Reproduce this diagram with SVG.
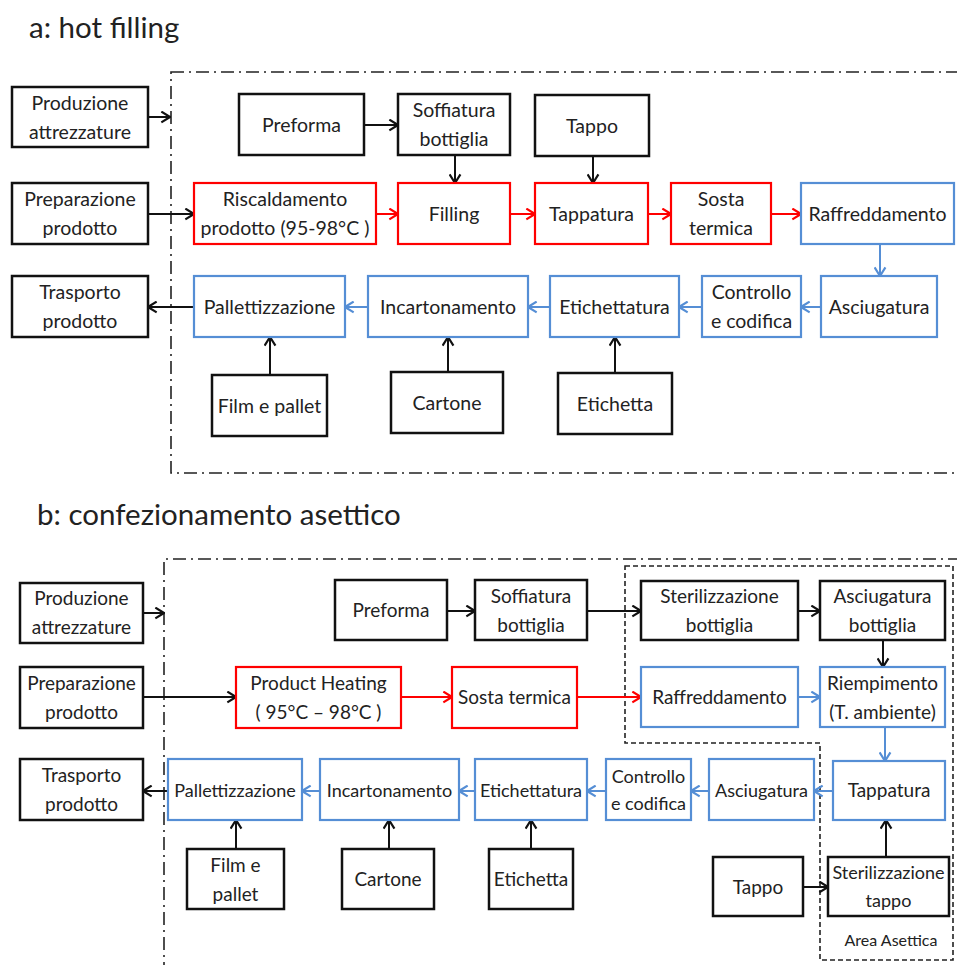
<svg xmlns="http://www.w3.org/2000/svg" width="957" height="965" viewBox="0 0 957 965">
  <defs>
    <style>
      text { font-family: Lato, "Liberation Sans", sans-serif; fill: #222222; text-anchor: middle; }
      .title { font-size: 29.5px; text-anchor: start; }
      .ta { font-size: 19.5px; }
      .tb { font-size: 19px; }
      .tc { font-size: 18px; }
      .small { font-size: 16px; }
      rect { fill: #ffffff; }
      .k { stroke: #111111; stroke-width: 2.5; }
      .r { stroke: #ff0000; stroke-width: 2.2; }
      .b { stroke: #558ed5; stroke-width: 2.2; }
      .ck { fill: none; stroke: #111111; stroke-width: 2; marker-end: url(#ak); }
      .cr { fill: none; stroke: #ff0000; stroke-width: 2; marker-end: url(#ar); }
      .cb { fill: none; stroke: #558ed5; stroke-width: 2; marker-end: url(#ab); }
      .frame { fill: none; stroke: #222222; stroke-width: 1.6; stroke-dasharray: 13 5 2 5; }
      .aseptic { fill: none; stroke: #222222; stroke-width: 1.6; stroke-dasharray: 5 3; }
    </style>
    <marker id="ak" viewBox="0 0 10 12" refX="9" refY="6" markerWidth="11" markerHeight="13" markerUnits="userSpaceOnUse" orient="auto">
      <path d="M1,1 L9,6 L1,11" fill="none" stroke="#111111" stroke-width="2"/>
    </marker>
    <marker id="ar" viewBox="0 0 10 12" refX="9" refY="6" markerWidth="11" markerHeight="13" markerUnits="userSpaceOnUse" orient="auto">
      <path d="M1,1 L9,6 L1,11" fill="none" stroke="#ff0000" stroke-width="2"/>
    </marker>
    <marker id="ab" viewBox="0 0 10 12" refX="9" refY="6" markerWidth="11" markerHeight="13" markerUnits="userSpaceOnUse" orient="auto">
      <path d="M1,1 L9,6 L1,11" fill="none" stroke="#558ed5" stroke-width="2"/>
    </marker>
  </defs>

  <rect x="0" y="0" width="957" height="965" fill="#ffffff"/>

  <!-- section titles -->
  <text class="title" x="29" y="38">a: hot filling</text>
  <text class="title" x="37" y="525">b: confezionamento asettico</text>

  <!-- boundaries -->
  <g id="boundaries">
    <rect class="frame" x="171" y="72" width="800" height="401"/>
    <path class="frame" d="M164,975 V559 H965"/>
    <path class="aseptic" d="M625,566 H953 V960 H820 V743 H625 Z"/>
    <text class="small" x="891" y="946">Area Asettica</text>
  </g>

  <!-- connectors -->
  <g id="connectors">
    <!-- a: hot filling -->
    <path class="ck" d="M148,117 H170"/>
    <path class="ck" d="M148,214 H194"/>
    <path class="ck" d="M364,125 H398"/>
    <path class="ck" d="M455,155 V183"/>
    <path class="ck" d="M593,157 V183"/>
    <path class="cr" d="M376,214 H398"/>
    <path class="cr" d="M510,214 H535"/>
    <path class="cr" d="M648,214 H671"/>
    <path class="cr" d="M771,214 H801"/>
    <path class="cb" d="M880,244 V276"/>
    <path class="cb" d="M821,307 H801"/>
    <path class="cb" d="M702,307 H679"/>
    <path class="cb" d="M550,307 H528"/>
    <path class="cb" d="M368,307 H345"/>
    <path class="ck" d="M194,307 H148"/>
    <path class="ck" d="M270,375 V337"/>
    <path class="ck" d="M448,372 V337"/>
    <path class="ck" d="M615,373 V337"/>
    <!-- b: confezionamento asettico -->
    <path class="ck" d="M143,613 H164"/>
    <path class="ck" d="M143,697 H236"/>
    <path class="ck" d="M447,611 H475"/>
    <path class="ck" d="M587,611 H641"/>
    <path class="ck" d="M798,611 H820"/>
    <path class="ck" d="M883,640 V667"/>
    <path class="cr" d="M401,697 H452"/>
    <path class="cr" d="M577,697 H641"/>
    <path class="cb" d="M798,697 H820"/>
    <path class="cb" d="M885,727 V761"/>
    <path class="cb" d="M833,791 H814"/>
    <path class="cb" d="M709,791 H691"/>
    <path class="cb" d="M606,791 H587"/>
    <path class="cb" d="M475,791 H459"/>
    <path class="cb" d="M320,791 H302"/>
    <path class="ck" d="M168,791 H143"/>
    <path class="ck" d="M236,849 V820"/>
    <path class="ck" d="M389,849 V820"/>
    <path class="ck" d="M531,849 V820"/>
    <path class="ck" d="M886,857 V820"/>
    <path class="ck" d="M803,887 H828"/>
  </g>

  <!-- a: hot filling nodes -->
  <g id="a-produzione-attrezzature"><rect class="k" x="12" y="87" width="136" height="60"/><text class="ta" x="80" y="110">Produzione</text><text class="ta" x="80" y="139">attrezzature</text></g>
  <g id="a-preforma"><rect class="k" x="239" y="94" width="125" height="61"/><text class="ta" x="301.5" y="132">Preforma</text></g>
  <g id="a-soffiatura"><rect class="k" x="398" y="94" width="112" height="61"/><text class="ta" x="454" y="117">Soffiatura</text><text class="ta" x="454" y="146">bottiglia</text></g>
  <g id="a-tappo"><rect class="k" x="535" y="95" width="114" height="61"/><text class="ta" x="592" y="133">Tappo</text></g>
  <g id="a-preparazione-prodotto"><rect class="k" x="12" y="183" width="136" height="61"/><text class="ta" x="80" y="206">Preparazione</text><text class="ta" x="80" y="235">prodotto</text></g>
  <g id="a-riscaldamento"><rect class="r" x="194" y="183" width="182" height="61"/><text class="ta" x="285" y="206">Riscaldamento</text><text class="ta" x="285" y="235">prodotto (95-98°C )</text></g>
  <g id="a-filling"><rect class="r" x="398" y="183" width="112" height="61"/><text class="ta" x="454" y="221">Filling</text></g>
  <g id="a-tappatura"><rect class="r" x="535" y="183" width="113" height="61"/><text class="ta" x="591.5" y="221">Tappatura</text></g>
  <g id="a-sosta-termica"><rect class="r" x="671" y="183" width="100" height="61"/><text class="ta" x="721" y="206">Sosta</text><text class="ta" x="721" y="235">termica</text></g>
  <g id="a-raffreddamento"><rect class="b" x="801" y="183" width="153" height="61"/><text class="ta" x="877.5" y="221">Raffreddamento</text></g>
  <g id="a-trasporto-prodotto"><rect class="k" x="12" y="276" width="136" height="61"/><text class="ta" x="80" y="299">Trasporto</text><text class="ta" x="80" y="328">prodotto</text></g>
  <g id="a-pallettizzazione"><rect class="b" x="194" y="276" width="151" height="61"/><text class="ta" x="269.5" y="314">Pallettizzazione</text></g>
  <g id="a-incartonamento"><rect class="b" x="368" y="276" width="160" height="61"/><text class="ta" x="448" y="314">Incartonamento</text></g>
  <g id="a-etichettatura"><rect class="b" x="550" y="276" width="129" height="61"/><text class="ta" x="614.5" y="314">Etichettatura</text></g>
  <g id="a-controllo-codifica"><rect class="b" x="702" y="276" width="99" height="61"/><text class="ta" x="751.5" y="299">Controllo</text><text class="ta" x="751.5" y="328">e codifica</text></g>
  <g id="a-asciugatura"><rect class="b" x="821" y="276" width="116" height="61"/><text class="ta" x="879" y="314">Asciugatura</text></g>
  <g id="a-film-pallet"><rect class="k" x="212" y="375" width="115" height="61"/><text class="ta" x="269.5" y="413">Film e pallet</text></g>
  <g id="a-cartone"><rect class="k" x="391" y="372" width="112" height="61"/><text class="ta" x="447" y="410">Cartone</text></g>
  <g id="a-etichetta"><rect class="k" x="558" y="373" width="114" height="61"/><text class="ta" x="615" y="411">Etichetta</text></g>

  <!-- b: confezionamento asettico nodes -->
  <g id="b-produzione-attrezzature"><rect class="k" x="20" y="583" width="123" height="60"/><text class="tb" x="81.5" y="605">Produzione</text><text class="tb" x="81.5" y="634">attrezzature</text></g>
  <g id="b-preparazione-prodotto"><rect class="k" x="20" y="667" width="123" height="61"/><text class="tb" x="81.5" y="690">Preparazione</text><text class="tb" x="81.5" y="719">prodotto</text></g>
  <g id="b-preforma"><rect class="k" x="335" y="580" width="112" height="60"/><text class="tb" x="391" y="617">Preforma</text></g>
  <g id="b-soffiatura"><rect class="k" x="475" y="580" width="112" height="60"/><text class="tb" x="531" y="603">Soffiatura</text><text class="tb" x="531" y="632">bottiglia</text></g>
  <g id="b-sterilizzazione-bottiglia"><rect class="k" x="641" y="581" width="157" height="59"/><text class="tb" x="719.5" y="603">Sterilizzazione</text><text class="tb" x="719.5" y="632">bottiglia</text></g>
  <g id="b-asciugatura-bottiglia"><rect class="k" x="820" y="581" width="125" height="59"/><text class="tb" x="882.5" y="603">Asciugatura</text><text class="tb" x="882.5" y="632">bottiglia</text></g>
  <g id="b-product-heating"><rect class="r" x="236" y="667" width="165" height="61"/><text class="tb" x="318.5" y="690">Product Heating</text><text class="tb" x="318.5" y="719">( 95°C – 98°C )</text></g>
  <g id="b-sosta-termica"><rect class="r" x="452" y="667" width="125" height="61"/><text class="tb" x="514.5" y="704">Sosta termica</text></g>
  <g id="b-raffreddamento"><rect class="b" x="641" y="667" width="157" height="60"/><text class="tb" x="719.5" y="704">Raffreddamento</text></g>
  <g id="b-riempimento"><rect class="b" x="820" y="667" width="125" height="60"/><text class="tb" x="882.5" y="690">Riempimento</text><text class="tb" x="882.5" y="719">(T. ambiente)</text></g>
  <g id="b-trasporto-prodotto"><rect class="k" x="20" y="759" width="123" height="61"/><text class="tb" x="81.5" y="782">Trasporto</text><text class="tb" x="81.5" y="811">prodotto</text></g>
  <g id="b-pallettizzazione"><rect class="b" x="168" y="759" width="134" height="61"/><text class="tc" x="235" y="797">Pallettizzazione</text></g>
  <g id="b-incartonamento"><rect class="b" x="320" y="759" width="139" height="61"/><text class="tc" x="389.5" y="797">Incartonamento</text></g>
  <g id="b-etichettatura"><rect class="b" x="475" y="759" width="112" height="61"/><text class="tc" x="531" y="797">Etichettatura</text></g>
  <g id="b-controllo-codifica"><rect class="b" x="606" y="759" width="85" height="61"/><text class="tc" x="648.5" y="783">Controllo</text><text class="tc" x="648.5" y="810">e codifica</text></g>
  <g id="b-asciugatura"><rect class="b" x="709" y="759" width="105" height="61"/><text class="tc" x="761.5" y="797">Asciugatura</text></g>
  <g id="b-tappatura"><rect class="b" x="833" y="761" width="112" height="59"/><text class="tb" x="889" y="797">Tappatura</text></g>
  <g id="b-film-pallet"><rect class="k" x="187" y="849" width="97" height="60"/><text class="tb" x="235.5" y="872">Film e</text><text class="tb" x="235.5" y="901">pallet</text></g>
  <g id="b-cartone"><rect class="k" x="342" y="849" width="92" height="60"/><text class="tb" x="388" y="886">Cartone</text></g>
  <g id="b-etichetta"><rect class="k" x="489" y="849" width="84" height="60"/><text class="tb" x="531" y="886">Etichetta</text></g>
  <g id="b-tappo"><rect class="k" x="713" y="857" width="90" height="59"/><text class="tb" x="758" y="894">Tappo</text></g>
  <g id="b-sterilizzazione-tappo"><rect class="k" x="828" y="857" width="121" height="59"/><text class="tc" x="888.5" y="879">Sterilizzazione</text><text class="tc" x="888.5" y="907">tappo</text></g>
</svg>
